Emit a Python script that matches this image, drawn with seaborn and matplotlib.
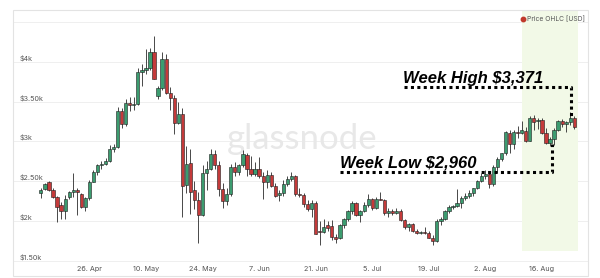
import numpy as np
import pandas as pd
import matplotlib
matplotlib.use("Agg")
import matplotlib.pyplot as plt
import seaborn as sns
from matplotlib.patches import Rectangle

# ---------------- data ----------------
start_date = "2021-04-14"
opens = [2350, 2405, 2490, 2395, 2305, 2200, 2130, 2300, 2365, 2395, 2340, 2180, 2290, 2495, 2620, 2700, 2720,
         2760, 2900, 2930, 3380, 3215, 3490, 3460, 3475, 3870, 3905, 3930, 4127, 3570, 3670, 4040, 3610, 3545,
         3230, 3340, 2450, 2730, 2390, 2270, 2080, 2600, 2650, 2840, 2710, 2400, 2250, 2345, 2680, 2620, 2700,
         2830, 2660, 2590, 2660, 2560, 2490, 2580, 2440, 2330, 2350, 2470, 2530, 2560, 2340, 2330, 2210, 2150,
         2220, 1880, 1860, 1950, 1940, 1800, 1785, 1945, 2020, 2120, 2220, 2075, 2125, 2200, 2275, 2160, 2280,
         2265, 2100, 2120, 2100, 2130, 2010, 1920, 1960, 1880, 1845, 1860, 1850, 1790, 1750, 1995, 2030, 2120,
         2180, 2190, 2220, 2290, 2310, 2350, 2410, 2500, 2560, 2590, 2460, 2680, 2780, 2850, 3110, 2970, 3120,
         3105, 3130, 3010, 3290, 3255, 3270, 3110, 2980, 3025, 3150, 3255, 3215, 3240, 3300]
highs = [2410, 2480, 2505, 2420, 2315, 2240, 2330, 2380, 2600, 2420, 2350, 2300, 2510, 2640, 2720, 2760, 2790,
         2950, 2970, 3440, 3420, 3530, 3560, 3560, 3930, 3980, 4165, 4180, 4330, 3700, 4130, 4100, 3680, 3580,
         3500, 3420, 2940, 2900, 2500, 2360, 2700, 2750, 2900, 2890, 2760, 2480, 2420, 2720, 2740, 2720, 2890,
         2860, 2820, 2740, 2810, 2620, 2640, 2620, 2480, 2390, 2520, 2560, 2610, 2580, 2420, 2350, 2260, 2260,
         2250, 2000, 2020, 2000, 2010, 1840, 1960, 2040, 2140, 2250, 2240, 2140, 2240, 2345, 2290, 2300, 2370,
         2280, 2160, 2150, 2160, 2150, 2030, 1970, 1980, 1900, 1880, 1930, 1870, 1820, 2030, 2045, 2140, 2200,
         2200, 2400, 2310, 2350, 2390, 2420, 2520, 2600, 2640, 2620, 2700, 2800, 2860, 3130, 3140, 3140, 3200,
         3260, 3180, 3320, 3330, 3300, 3290, 3170, 3060, 3170, 3270, 3280, 3260, 3371, 3320]
lows = [2290, 2395, 2380, 2290, 1990, 2030, 2030, 2280, 2300, 2080, 2160, 2130, 2270, 2490, 2580, 2650, 2700,
        2740, 2870, 2920, 3170, 3190, 3380, 3400, 3460, 3700, 3850, 3900, 3780, 3530, 3650, 3600, 3400, 3100,
        3220, 2050, 2350, 2090, 2150, 1720, 2060, 2390, 2640, 2650, 2320, 2160, 2200, 2320, 2560, 2580, 2680,
        2560, 2560, 2560, 2540, 2280, 2420, 2430, 2300, 2250, 2320, 2440, 2500, 2320, 2300, 2180, 2120, 2050,
        1830, 1700, 1850, 1880, 1760, 1720, 1770, 1910, 2000, 2090, 2060, 1990, 2110, 2180, 2140, 2150, 2260,
        2080, 2050, 2070, 2090, 2000, 1900, 1880, 1860, 1830, 1830, 1840, 1780, 1700, 1740, 1950, 2010, 2100,
        2150, 2170, 2160, 2260, 2290, 2310, 2400, 2490, 2530, 2420, 2440, 2600, 2750, 2830, 2850, 2900, 3050,
        3100, 2990, 3000, 3150, 3160, 3100, 2970, 2940, 2960, 3130, 3180, 3120, 3210, 3160]
closes = [2385, 2468, 2395, 2305, 2180, 2130, 2280, 2365, 2395, 2360, 2170, 2290, 2495, 2620, 2700, 2720, 2760,
          2900, 2930, 3380, 3215, 3480, 3460, 3475, 3870, 3905, 3930, 4127, 3785, 3670, 4040, 3610, 3545, 3230,
          3340, 2445, 2720, 2370, 2270, 2080, 2600, 2650, 2840, 2710, 2400, 2250, 2345, 2680, 2620, 2700, 2840,
          2660, 2590, 2660, 2560, 2490, 2580, 2440, 2320, 2350, 2470, 2530, 2560, 2340, 2330, 2210, 2150, 2220,
          1840, 1860, 1930, 1910, 1800, 1775, 1945, 2020, 2120, 2220, 2080, 2125, 2200, 2275, 2160, 2280, 2265,
          2100, 2120, 2100, 2130, 2010, 1920, 1960, 1880, 1845, 1860, 1850, 1790, 1750, 1995, 2030, 2120, 2180,
          2190, 2220, 2290, 2310, 2350, 2410, 2500, 2560, 2590, 2460, 2680, 2780, 2850, 3120, 2970, 3120, 3105,
          3140, 3010, 3290, 3250, 3270, 3110, 2980, 3030, 3150, 3255, 3215, 3240, 3300, 3185]

tick_dates = ["2021-04-26", "2021-05-10", "2021-05-24", "2021-06-07", "2021-06-21",
              "2021-07-05", "2021-07-19", "2021-08-02", "2021-08-16"]
tick_labels = ["26. Apr", "10. May", "24. May", "7. Jun", "21. Jun", "5. Jul", "19. Jul", "2. Aug", "16. Aug"]
y_ticks = [1500, 2000, 2500, 3000, 3500, 4000]
y_tick_labels = ["$1.50k", "$2k", "$2.50k", "$3k", "$3.50k", "$4k"]
week_high_label = "Week High $3,371"
week_low_label = "Week Low $2,960"
legend_label = "Price OHLC [USD]"
watermark = "glassnode"

# ---------------- style ----------------
sns.set_theme(style="white")
plt.rcParams["font.family"] = ["Inter", "DejaVu Sans"]

dates = pd.date_range(start_date, periods=len(opens), freq="D")
df = pd.DataFrame({"date": dates, "open": opens, "high": highs, "low": lows, "close": closes})
df["day"] = (df["date"] - df["date"].iloc[0]).dt.days
df["up"] = df["close"] >= df["open"]

W, H = 600, 278
fig = plt.figure(figsize=(W / 100, H / 100), dpi=100)
fig.patch.set_facecolor("white")
ax_l, ax_r, ax_t, ax_b = 13, 588, 10, 262
ax = fig.add_axes([ax_l / W, 1 - ax_b / H, (ax_r - ax_l) / W, (ax_b - ax_t) / H])
for s in ax.spines.values():
    s.set_visible(False)

# card frame
fig.patches.append(Rectangle((ax_l / W, 1 - 276 / H), (ax_r - ax_l) / W, (276 - ax_t) / H,
                             transform=fig.transFigure, fill=False, edgecolor="#e3e3e3", lw=0.8))

x0, x1 = -6.9, 135.4
ax.set_xlim(x0, x1)
ax.set_ylim(1484, 4654)

# gridlines
for yv in y_ticks + [4500]:
    ax.axhline(yv, color="#ededed", lw=0.6, zorder=0)

# week shading
ax.axvspan(119.1, 132.9, ymin=0.045, ymax=1, color="#f2f9e7", zorder=0.2, lw=0)

# watermark
ax.text(302 / W, 1 - 139 / H, watermark, transform=fig.transFigure, fontsize=25,
        color="#e8e8e8", ha="center", va="center", family=["Lato", "DejaVu Sans"], zorder=0.5)

# candles
green, red = "#3c9c70", "#c43a3a"
colors = np.where(df["up"], green, red)
ax.vlines(df["day"], df["low"], df["high"], color="#2b2b2b", lw=0.6, zorder=2)
body_lo = np.minimum(df["open"], df["close"])
body_h = np.maximum(np.abs(df["close"] - df["open"]), 8)
ax.bar(df["day"], body_h, bottom=body_lo, width=0.8, color=colors, edgecolor="#1e1e1e",
       linewidth=0.4, zorder=3)

# y tick labels inside plot
for yv, lab in zip(y_ticks, y_tick_labels):
    ax.text((20 - ax_l) / (ax_r - ax_l), yv + 8, lab, transform=ax.get_yaxis_transform(),
            ha="left", va="bottom", fontsize=5.2, color="#555555")
ax.set_yticks([])

# x ticks
tick_days = [(pd.Timestamp(d) - dates[0]).days for d in tick_dates]
ax.set_xticks(tick_days)
ax.set_xticklabels(tick_labels, fontsize=5.2, color="#555555")
ax.tick_params(axis="x", length=0, pad=3)

# legend
ax.plot([(523 - ax_l) / (ax_r - ax_l)], [1 - (19 - ax_t) / (ax_b - ax_t)], "o", ms=3.2,
        color="#c0392b", transform=ax.transAxes, clip_on=False)
ax.text((527 - ax_l) / (ax_r - ax_l), 1 - (19 - ax_t) / (ax_b - ax_t), legend_label,
        transform=ax.transAxes, fontsize=4.8, color="#555555", ha="left", va="center")

# annotations
ann_font = dict(family=["Liberation Sans", "DejaVu Sans"], fontsize=12, fontweight="bold",
                fontstyle="italic", color="black")
dot = dict(color="black", lw=2.2, linestyle=(0, (1.0, 1.1)), solid_capstyle="butt", zorder=5)

ax.text(89.6, 3736, week_high_label, ha="left", va="baseline", zorder=6, **ann_font)
ax.plot([89.8, 131.2, 131.2], [3686, 3686, 3321], **dot)

ax.text(74.0, 2667, week_low_label, ha="left", va="baseline", zorder=6, **ann_font)
ax.plot([74.0, 126.6, 126.6], [2610, 2610, 2969], **dot)

fig.savefig("out.png", dpi=100, facecolor="white")
